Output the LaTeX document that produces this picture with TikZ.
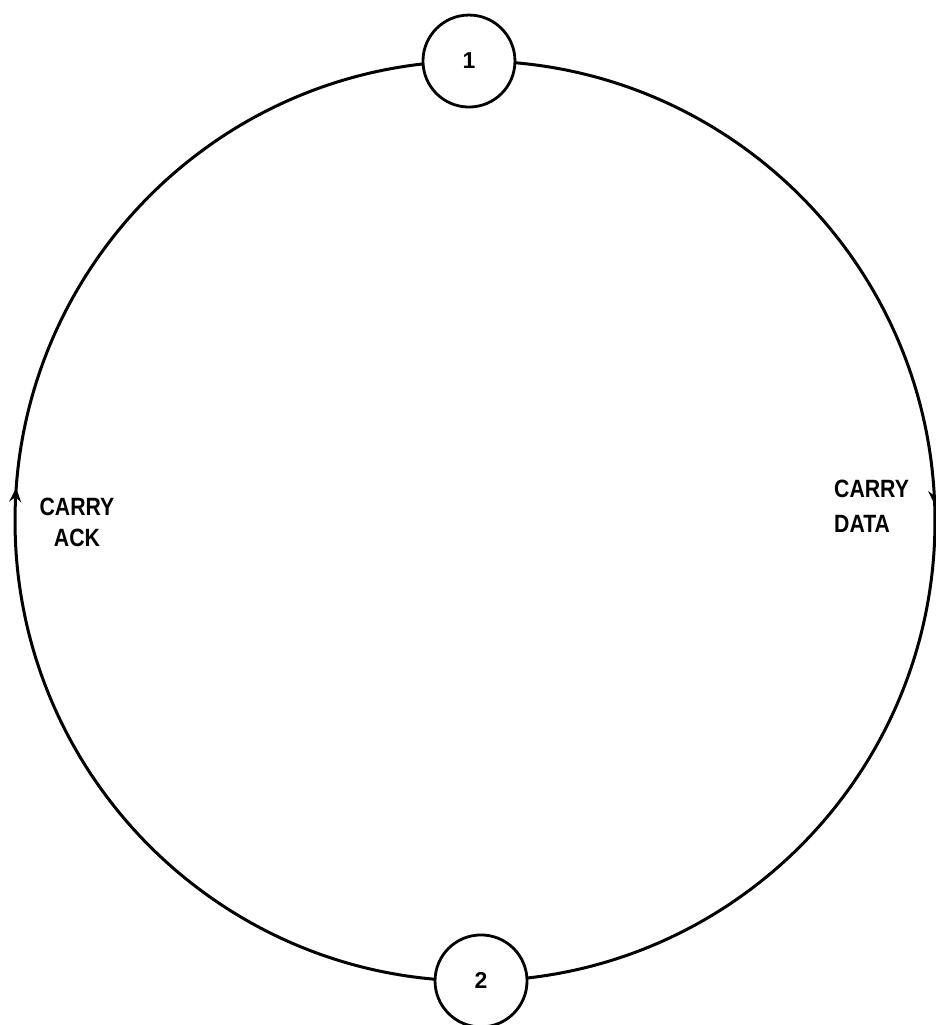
\documentclass[tikz,border=0pt]{standalone}
\usepackage{fontspec}
\setmainfont{Liberation Sans}
\usetikzlibrary{arrows.meta,decorations.markings,calc,backgrounds}
\tikzset{
  station/.style={circle,draw,fill=white,line width=2.8pt,minimum size=92pt,inner sep=0pt,
    font=\fontsize{23}{25}\selectfont\bfseries},
  ring/.style={line width=3pt},
  flowmark/.style={postaction={decorate},decoration={markings,
    mark=at position #1 with {\arrow{Stealth[length=14pt,width=12pt,inset=5pt]}}}},
  lbl/.style={font=\fontsize{25}{34}\selectfont\bfseries,inner sep=0pt}
}
\begin{document}
\begin{tikzpicture}[x=1pt,y=1pt]
\useasboundingbox (0,0) rectangle (936,1025);
\coordinate (O) at (475,504);
\node[station] (n1) at ($(O)+(90.75:460)$) {1};
\node[station] (n2) at ($(O)+(-89.25:460)$) {2};
\begin{scope}[on background layer]
\draw[ring,flowmark=0.493] (n1.center) arc[start angle=90.75,end angle=-89.25,radius=460];
\draw[ring,flowmark=0.527] (n2.center) arc[start angle=270.75,end angle=90.75,radius=460];
\end{scope}
\node[lbl,align=center] (ack) at (77,503) {\scalebox{0.85}[1]{CARRY}\\[-3pt]\scalebox{0.85}[1]{ACK}};
\node[lbl,align=left,anchor=west] (data) at (834,519) {\scalebox{0.85}[1]{CARRY}\\[1pt]\scalebox{0.85}[1]{DATA}};
\end{tikzpicture}
\end{document}
